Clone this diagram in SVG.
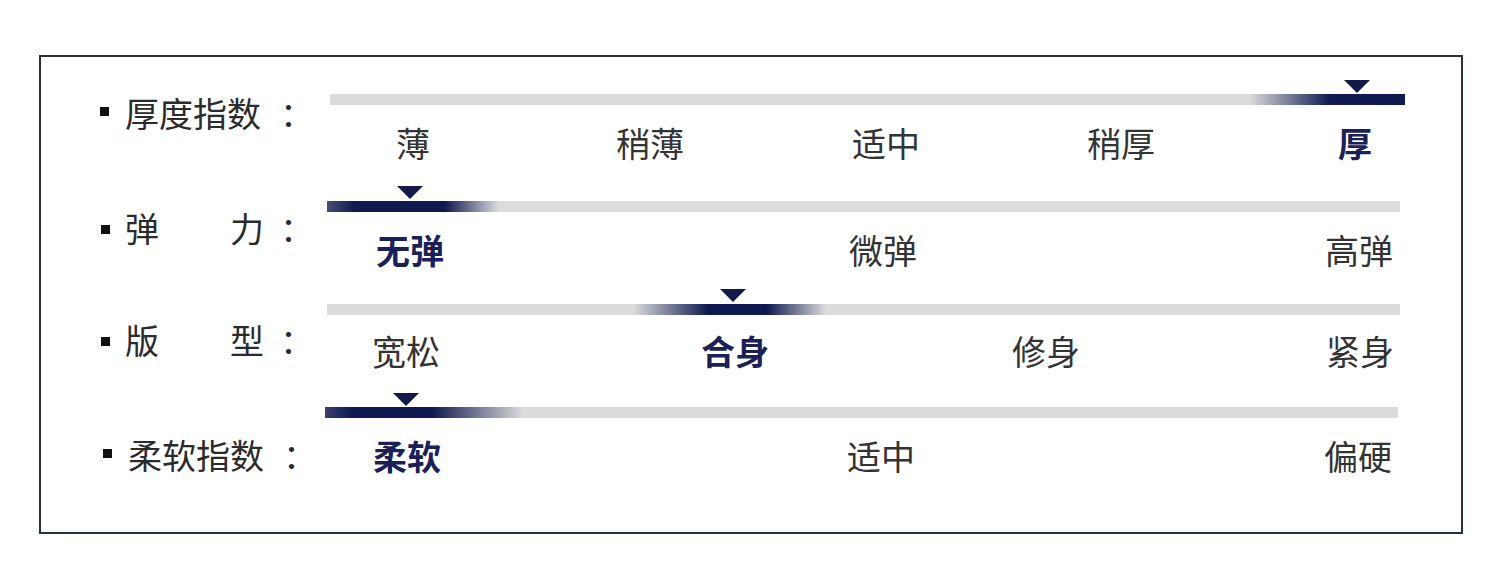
<svg xmlns="http://www.w3.org/2000/svg" width="1500" height="585" viewBox="0 0 1500 585">
<defs>
<style>
.lbl{font-family:"Noto Sans CJK SC","Noto Sans",sans-serif;font-size:34px;fill:#2b2b2b;}
.val{font-family:"Noto Sans CJK SC","Noto Sans",sans-serif;font-size:34px;fill:#333333;text-anchor:middle;}
.sel{fill:#1b2157;font-weight:bold;}
.bul{fill:#111111;}
.tri{fill:#131a4a;}
</style>
<linearGradient id="g1" gradientUnits="userSpaceOnUse" x1="330" y1="0" x2="1405" y2="0">
<stop offset="0" stop-color="#dcdcdc"/>
<stop offset="0.855" stop-color="#dcdcdc"/>
<stop offset="0.93" stop-color="#111a50"/>
<stop offset="1" stop-color="#111a50"/>
</linearGradient>
<linearGradient id="g2" gradientUnits="userSpaceOnUse" x1="327" y1="0" x2="1400" y2="0">
<stop offset="0" stop-color="#4a5078"/>
<stop offset="0.025" stop-color="#111a50"/>
<stop offset="0.11" stop-color="#111a50"/>
<stop offset="0.16" stop-color="#dcdcdc"/>
<stop offset="1" stop-color="#dcdcdc"/>
</linearGradient>
<linearGradient id="g3" gradientUnits="userSpaceOnUse" x1="327" y1="0" x2="1400" y2="0">
<stop offset="0" stop-color="#dcdcdc"/>
<stop offset="0.285" stop-color="#dcdcdc"/>
<stop offset="0.355" stop-color="#111a50"/>
<stop offset="0.41" stop-color="#111a50"/>
<stop offset="0.465" stop-color="#dcdcdc"/>
<stop offset="1" stop-color="#dcdcdc"/>
</linearGradient>
<linearGradient id="g4" gradientUnits="userSpaceOnUse" x1="325" y1="0" x2="1398" y2="0">
<stop offset="0" stop-color="#3a4070"/>
<stop offset="0.025" stop-color="#111a50"/>
<stop offset="0.10" stop-color="#111a50"/>
<stop offset="0.185" stop-color="#dcdcdc"/>
<stop offset="1" stop-color="#dcdcdc"/>
</linearGradient>
</defs>
<rect x="0" y="0" width="1500" height="585" fill="#ffffff"/>
<rect id="frame" x="40" y="56" width="1422" height="477" fill="#ffffff" stroke="#273048" stroke-width="2"/>

<g id="row-thickness">
<rect class="bul" x="100" y="107" width="9" height="9"/>
<text class="lbl" x="125" y="127">厚度指数</text>
<text class="lbl" x="280" y="127">：</text>
<rect x="330" y="94" width="1075" height="11" fill="url(#g1)"/>
<polygon class="tri" points="1344,80 1370,80 1357,93"/>
<text class="val" x="413" y="157">薄</text>
<text class="val" x="650" y="157">稍薄</text>
<text class="val" x="886" y="157">适中</text>
<text class="val" x="1121" y="157">稍厚</text>
<text class="val sel" x="1355" y="157">厚</text>
</g>

<g id="row-elasticity">
<rect class="bul" x="101" y="225" width="9" height="9"/>
<text class="lbl" x="125" y="242">弹</text>
<text class="lbl" x="230" y="242">力</text>
<text class="lbl" x="280" y="242">：</text>
<rect x="327" y="201" width="1073" height="11" fill="url(#g2)"/>
<polygon class="tri" points="397,186 423,186 410,199"/>
<text class="val sel" x="410" y="264">无弹</text>
<text class="val" x="883" y="264">微弹</text>
<text class="val" x="1359" y="264">高弹</text>
</g>

<g id="row-fit">
<rect class="bul" x="101" y="337" width="9" height="9"/>
<text class="lbl" x="125" y="354">版</text>
<text class="lbl" x="230" y="354">型</text>
<text class="lbl" x="280" y="354">：</text>
<rect x="327" y="304" width="1073" height="11" fill="url(#g3)"/>
<polygon class="tri" points="720,289 746,289 733,302"/>
<text class="val" x="406" y="365">宽松</text>
<text class="val sel" x="735" y="365">合身</text>
<text class="val" x="1046" y="365">修身</text>
<text class="val" x="1360" y="365">紧身</text>
</g>

<g id="row-softness">
<rect class="bul" x="103" y="449" width="9" height="9"/>
<text class="lbl" x="128" y="469">柔软指数</text>
<text class="lbl" x="283" y="469">：</text>
<rect x="325" y="407" width="1073" height="11" fill="url(#g4)"/>
<polygon class="tri" points="393,393 419,393 406,406"/>
<text class="val sel" x="407" y="470">柔软</text>
<text class="val" x="881" y="470">适中</text>
<text class="val" x="1358" y="470">偏硬</text>
</g>
<g id="connectors"/>
</svg>
